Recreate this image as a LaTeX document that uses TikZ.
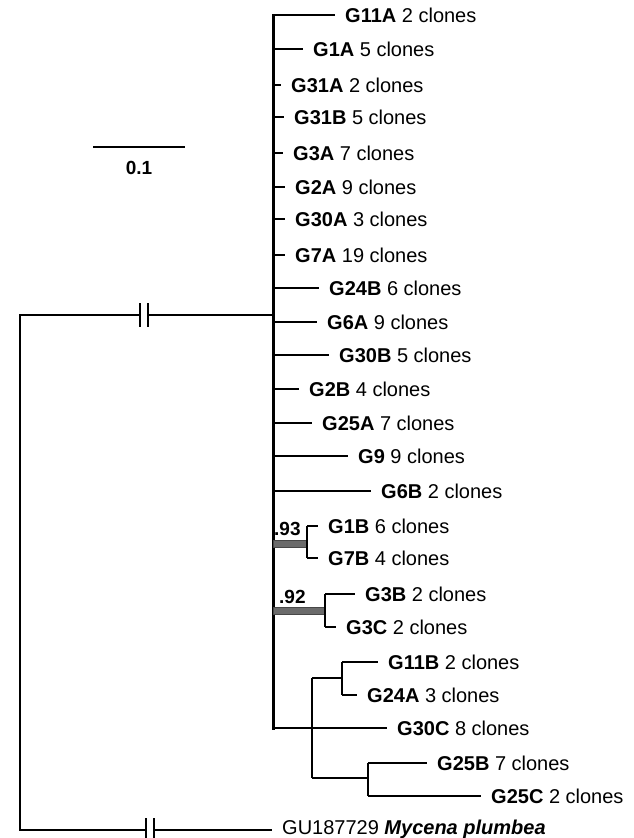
\documentclass[tikz,border=0pt]{standalone}
\usepackage{fontspec}
\setmainfont{Liberation Sans}
\newcommand\tipleaf[5]{%
  \coordinate (t#1) at (#3,#2);
  \node[leaf] (l#1) at (t#1) {\textbf{#4} #5};
}
\begin{document}
\begin{tikzpicture}[x=1pt,y=-1pt,
  br/.style={line width=2pt},
  trunk/.style={line width=3pt},
  leaf/.style={anchor=base west,inner sep=0pt,xshift=10pt,yshift=-7pt,font=\fontsize{20}{22}\selectfont},
  supp/.style={anchor=base west,inner sep=0pt,font=\fontsize{19}{20}\selectfont\bfseries},
  suppbar/.style={fill=black!58,draw=black!72,line width=0.6pt},
  brk/.style={line width=2.2pt}]
\useasboundingbox (0,0) rectangle (634,838);

% ---- coordinates of internal nodes
\coordinate (mtop) at (273,15);
\coordinate (mbot) at (273,728);
\coordinate (mroot) at (273,315);
\coordinate (root) at (20,315);
\coordinate (rootbot) at (20,830);

% ---- leaves
\tipleaf{G11A}{15}{335}{G11A}{2 clones}
\tipleaf{G1A}{49}{303}{G1A}{5 clones}
\tipleaf{G31A}{85}{281}{G31A}{2 clones}
\tipleaf{G31B}{117}{284}{G31B}{5 clones}
\tipleaf{G3A}{153}{283}{G3A}{7 clones}
\tipleaf{G2A}{187}{285}{G2A}{9 clones}
\tipleaf{G30A}{219}{285}{G30A}{3 clones}
\tipleaf{G7A}{255}{285}{G7A}{19 clones}
\tipleaf{G24B}{288}{319}{G24B}{6 clones}
\tipleaf{G6A}{322}{317}{G6A}{9 clones}
\tipleaf{G30B}{355}{329}{G30B}{5 clones}
\tipleaf{G2B}{389}{299}{G2B}{4 clones}
\tipleaf{G25A}{423}{312}{G25A}{7 clones}
\tipleaf{G9}{456}{348}{G9}{9 clones}
\tipleaf{G6B}{491}{371}{G6B}{2 clones}
\tipleaf{G1B}{526}{318}{G1B}{6 clones}
\tipleaf{G7B}{558}{318}{G7B}{4 clones}
\tipleaf{G3B}{594}{355}{G3B}{2 clones}
\tipleaf{G3C}{627}{336}{G3C}{2 clones}
\tipleaf{G11B}{662}{378}{G11B}{2 clones}
\tipleaf{G24A}{695}{357}{G24A}{3 clones}
\tipleaf{G30C}{728}{387}{G30C}{8 clones}
\tipleaf{G25B}{763}{427}{G25B}{7 clones}
\tipleaf{G25C}{796}{481}{G25C}{2 clones}

% ---- main trunk
\draw[trunk,line cap=rect] (mtop) -- (mbot);

% ---- branches straight from the trunk
\foreach \n in {G11A,G1A,G31A,G31B,G3A,G2A,G30A,G7A,G24B,G6A,G30B,G2B,G25A,G9,G6B,G30C}
  \draw[br] (mtop |- t\n) -- (t\n);

% ---- clade .93
\coordinate (n93) at (307,543);
\draw[suppbar] (mtop |- 0,540) rectangle (307,547);
\draw[br] (tG1B -| n93) -- (tG1B);
\draw[br] (tG7B -| n93) -- (tG7B);
\draw[br] (tG1B -| n93) -- (tG7B -| n93);
\node[supp] (s93) at (274,535) {.93};

% ---- clade .92
\coordinate (n92) at (325,610);
\draw[suppbar] (mtop |- 0,607) rectangle (325,614);
\draw[br] (tG3B -| n92) -- (tG3B);
\draw[br] (tG3C -| n92) -- (tG3C);
\draw[br] (tG3B -| n92) -- (tG3C -| n92);
\node[supp] (s92) at (279,603) {.92};

% ---- bottom clade
\coordinate (n30) at (312,728);
\coordinate (n11) at (342,678);
\coordinate (n25) at (368,778);
\draw[br] (n30 |- n11) -- (n30 |- n25);
\draw[br] (n30 |- n11) -- (n11);
\draw[br] (n30 |- n25) -- (n25);
\draw[br] (tG11B -| n11) -- (tG24A -| n11);
\draw[br] (tG11B -| n11) -- (tG11B);
\draw[br] (tG24A -| n11) -- (tG24A);
\draw[br] (tG25B -| n25) -- (tG25C -| n25);
\draw[br] (tG25B -| n25) -- (tG25B);
\draw[br] (tG25C -| n25) -- (tG25C);

% ---- root and outgroup
\coordinate (tGU) at (272,830);
\node[leaf,yshift=3pt] (lGU) at (tGU) {GU187729 \textbf{\textit{Mycena plumbea}}};
\coordinate (b1) at (140,315);
\coordinate (b2) at (148,315);
\coordinate (b3) at (146,830);
\coordinate (b4) at (154,830);
\draw[br] (b1) -- (root) -- (rootbot) -- (b3);
\draw[br] (b2) -- (mroot);
\draw[br] (b4) -- (tGU);
\foreach \b in {b1,b2,b3,b4}
  \draw[brk] ([yshift=12pt]\b) -- ([yshift=-12pt]\b);

% ---- scale bar
\coordinate (sc1) at (93,147);
\coordinate (sc2) at (185,147);
\draw[br] (sc1) -- (sc2);
\node[anchor=base,inner sep=0pt,font=\fontsize{19}{20}\selectfont\bfseries] (sclab) at (139,174) {0.1};
\end{tikzpicture}
\end{document}
